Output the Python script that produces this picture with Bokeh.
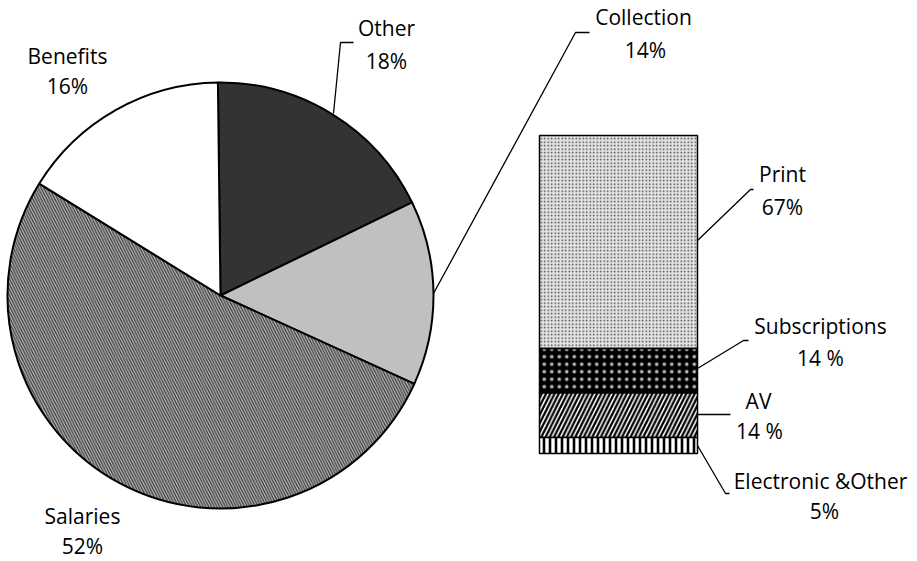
import numpy as np
from bokeh.plotting import figure
from bokeh.models import Range1d, ColumnDataSource
from bokeh.core.properties import value
from bokeh.embed import file_html
from bokeh.resources import INLINE

W, H = 917, 561

# ---- data ----
pie_labels = ["Other", "Collection", "Salaries", "Benefits"]
pie_pcts = ["18%", "14%", "52%", "16%"]
pie_values = [18, 14, 52, 16]

bar_labels = ["Print", "Subscriptions", "AV", "Electronic &Other"]
bar_pcts = ["67%", "14 %", "14 %", "5%"]
bar_values = [67, 14, 14, 5]   # top to bottom

# ---- styles ----
pie_fill = ["#333333", "#c0c0c0", "#cccccc", "#ffffff"]
pie_hatch = [None, None, "left_diagonal_line", None]
pie_hatch_color = ["#000000", "#000000", "#444444", "#000000"]

bar_fill = ["#e4e4e4", "#000000", "#ffffff", "#ffffff"]
bar_hatch = ["dot", "dot", "right_diagonal_line", "vertical_line"]
bar_hatch_color = ["#444444", "#b0b0b0", "#000000", "#000000"]
bar_hatch_scale = [3.5, 7.5, 8.5, 6]
bar_hatch_weight = [1.3, 1.1, 2.3, 2.6]

def Y(py):
    return H - py

p = figure(width=W, height=H, x_range=Range1d(0, W), y_range=Range1d(0, H),
           output_backend="svg", toolbar_location=None,
           x_axis_location=None, y_axis_location=None, min_border=0)
p.grid.visible = False
p.outline_line_color = None
p.background_fill_color = "white"

# ---- pie ----
cx, cy, r = 220, Y(295), 213
start_offset = np.deg2rad(0.7)
vals = np.array(pie_values, float)
frac = vals / vals.sum()
cum_end = np.cumsum(frac)
cum_start = cum_end - frac
top = np.pi / 2 + start_offset
start_ang = top - cum_end * 2 * np.pi
end_ang = top - cum_start * 2 * np.pi
for i in range(len(pie_values)):
    kw = {}
    if pie_hatch[i]:
        kw = dict(hatch_pattern=pie_hatch[i], hatch_color=pie_hatch_color[i],
                  hatch_scale=5.5, hatch_weight=1.5)
    p.wedge(x=cx, y=cy, radius=r, start_angle=start_ang[i], end_angle=end_ang[i],
            direction="anticlock", fill_color=pie_fill[i], line_color="black",
            line_width=2, **kw)

# ---- stacked bar ----
bx0, bx1 = 539, 697
by_bottom, by_top = Y(453), Y(135)
scale = (by_top - by_bottom) / sum(bar_values)
bv = np.array(bar_values, float)
tops = by_top - np.cumsum(np.r_[0, bv[:-1]]) * scale
bottoms = tops - bv * scale
for i in range(len(bar_values)):
    p.quad(left=bx0, right=bx1, bottom=bottoms[i], top=tops[i],
           fill_color=bar_fill[i], line_color="black", line_width=1.5,
           hatch_pattern=bar_hatch[i], hatch_color=bar_hatch_color[i],
           hatch_scale=bar_hatch_scale[i], hatch_weight=bar_hatch_weight[i])

# ---- leader lines ----
leaders = [
    [(333, 113), (340, 42), (353, 42)],
    [(433, 293), (575, 32), (589, 32)],
    [(697, 240), (750, 189), (753, 189)],
    [(697, 368), (743, 340), (748, 340)],
    [(697, 414), (730, 414)],
    [(697, 445), (725, 493), (729, 493)],
]
p.multi_line(xs=[[a for a, b in L] for L in leaders],
             ys=[[Y(b) for a, b in L] for L in leaders],
             line_color="black", line_width=1.3)

# ---- labels ----
all_labels = pie_labels + bar_labels
all_pcts = pie_pcts + bar_pcts
lab_pos = [(386, 27), (643, 16), (82, 515), (67, 55),
           (782, 173), (820, 325), (758, 400), (820, 480)]
pct_pos = [(386, 60), (645, 49), (82, 545), (67, 85),
           (782, 206), (820, 357), (759, 430), (824, 510)]
src = ColumnDataSource(dict(
    x=[a for a, b in lab_pos] + [a for a, b in pct_pos],
    y=[Y(b) for a, b in lab_pos] + [Y(b) for a, b in pct_pos],
    t=all_labels + all_pcts))
p.text(x="x", y="y", text="t", source=src, text_align="center",
       text_baseline="middle", text_font=value("Open Sans"),
       text_font_size="21px", text_color="black")

open("out.html", "w").write(file_html(p, INLINE))
